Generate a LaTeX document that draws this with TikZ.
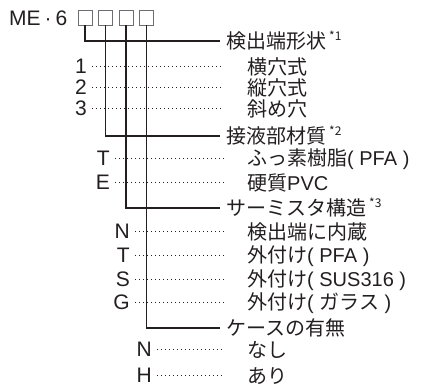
\documentclass[tikz,border=0pt]{standalone}
\usepackage{fontspec}
\setmainfont{Liberation Sans}
\newfontfamily\jp{Noto Sans CJK JP}
\definecolor{ink}{HTML}{231F20}
\definecolor{boxgray}{HTML}{6D6E71}
\newcommand{\fs}{\fontsize{20}{23}\selectfont}
\newcommand{\fsc}{\fontsize{21}{24}\selectfont}
\newcommand{\sups}[1]{\hspace{3pt}\raisebox{0.4em}{\fontsize{12}{12}\selectfont #1}}
\tikzset{
  txt/.style={inner sep=0pt, text=ink, font=\fs},
  code/.style={txt, anchor=east, font=\fsc},
  item/.style={txt, anchor=west},
  head/.style={txt, anchor=west},
  digitbox/.style={draw=boxgray, line width=0.8pt, minimum width=14pt, minimum height=15pt, inner sep=0pt},
  conn/.style={draw=ink, line width=1.4pt},
  leader/.style={draw=ink, line width=1pt, dash pattern=on 1pt off 3pt},
}
\begin{document}
\begin{tikzpicture}[x=1pt,y=-1pt]
\useasboundingbox (0,0) rectangle (421,388);
% model code
\node[txt, font=\fsc, anchor=base west] (me) at (9,25) {ME\hspace{4pt}·\hspace{4pt}6};
\node[digitbox] (b1) at (85,17.5) {};
\node[digitbox] (b2) at (105.5,17.5) {};
\node[digitbox] (b3) at (126,17.5) {};
\node[digitbox] (b4) at (146.5,17.5) {};
% headers
\node[head] (h1) at (226,41) {\jp 検出端形状\sups{*1}};
\node[head] (h2) at (226,136) {\jp 接液部材質\sups{*2}};
\node[head] (h3) at (226,208) {\jp サーミスタ構造\sups{*3}};
\node[head] (h4) at (226,328) {\jp ケースの有無};
\draw[conn] (b1.south) |- ([xshift=-6pt]h1.west);
\draw[conn] (b2.south) |- ([xshift=-6pt]h2.west);
\draw[conn] (b3.south) |- ([xshift=-6pt]h3.west);
\draw[conn] (b4.south) |- ([xshift=-6pt]h4.west);
\coordinate (dend) at (224,0);
% group 1
\node[code] (c11) at (87,66) {1};
\node[code] (c12) at (87,87) {2};
\node[code] (c13) at (87,108) {3};
\node[item] (i11) at (247,67) {\jp 横穴式};
\node[item] (i12) at (247,88) {\jp 縦穴式};
\node[item] (i13) at (247,109) {\jp 斜め穴};
% group 2
\node[code] (c21) at (110,158) {T};
\node[code] (c22) at (110,182) {E};
\node[item] (i21) at (247,159) {{\jp ふっ素樹脂}( PFA )};
\node[item] (i22) at (247,183) {{\jp 硬質}PVC};
% group 3
\node[code] (c31) at (130,231) {N};
\node[code] (c32) at (130,255) {T};
\node[code] (c33) at (130,279) {S};
\node[code] (c34) at (130,302) {G};
\node[item] (i31) at (247,232) {\jp 検出端に内蔵};
\node[item] (i32) at (247,256) {{\jp 外付け}( PFA )};
\node[item] (i33) at (247,280) {{\jp 外付け}( SUS316 )};
\node[item] (i34) at (247,303) {{\jp 外付け}( {\jp ガラス} )};
% group 4
\node[code] (c41) at (152,349) {N};
\node[code] (c42) at (152,375) {H};
\node[item] (i41) at (247,350) {\jp なし};
\node[item] (i42) at (247,376) {\jp あり};
% leaders
\foreach \c in {c11,c12,c13,c21,c22,c31,c32,c33,c34,c41,c42}{
  \draw[leader] ([xshift=5pt]\c.east) -- (\c.east -| dend);
}
\end{tikzpicture}
\end{document}
